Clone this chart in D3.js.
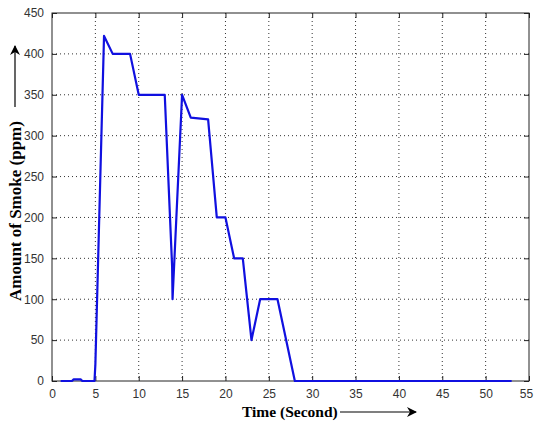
<!DOCTYPE html>
<html>
<head>
<meta charset="utf-8">
<script src="https://cdn.jsdelivr.net/npm/d3@7"></script>
<style>
  body { margin: 0; background: #fff; }
  svg { display: block; }
  .tick text { font-family: "Liberation Sans", Arial, sans-serif; font-size: 12px; fill: #333; }
  .lbl { font-family: "Liberation Serif", "Times New Roman", serif; font-weight: bold; fill: #000; }
</style>
</head>
<body>
<svg class="chart"></svg>
<script>
const width = 534, height = 425;
const margin = { top: 13, right: 5, bottom: 44, left: 52 };
const lineColor = "#1010e0";

// time in seconds
const times = [1, 2.3, 2.5, 3.3, 3.5, 4.9, 5, 6, 7, 9, 10, 13, 13.85, 13.9, 15, 16, 18, 19, 20, 21, 22, 23, 24, 26, 28, 53];
// smoke in ppm
const smoke = [0, 0, 2, 2, 0, 0, 20, 422, 400, 400, 350, 350, 140, 100, 350, 322, 320, 200, 200, 150, 150, 50, 100, 100, 0, 0];
const xTicks = [0, 5, 10, 15, 20, 25, 30, 35, 40, 45, 50, 55];
const yTicks = [0, 50, 100, 150, 200, 250, 300, 350, 400, 450];

const data = times.map((t, i) => [t, smoke[i]]);
const w = width - margin.left - margin.right,
  h = height - margin.top - margin.bottom;

const chart = d3.select(".chart")
  .attr("width", width)
  .attr("height", height);

const x = d3.scaleLinear().domain([0, 55]).range([0, w]);
const y = d3.scaleLinear().domain([0, 450]).range([h, 0]);

const g = chart.append("g")
  .attr("transform", `translate(${margin.left},${margin.top})`);

// grid
g.append("g").selectAll("line")
  .data(xTicks.slice(1, -1))
  .enter().append("line")
  .attr("x1", d => x(d)).attr("x2", d => x(d))
  .attr("y1", 0).attr("y2", h)
  .attr("stroke", "#333").attr("stroke-width", 1)
  .attr("stroke-dasharray", "1,3");
g.append("g").selectAll("line")
  .data(yTicks.slice(1, -1))
  .enter().append("line")
  .attr("y1", d => y(d)).attr("y2", d => y(d))
  .attr("x1", 0).attr("x2", w)
  .attr("stroke", "#333").attr("stroke-width", 1)
  .attr("stroke-dasharray", "1,3");

// axes, ticks pointing inward like matlab
g.append("g")
  .attr("transform", `translate(0,${h})`)
  .call(d3.axisBottom(x).tickValues(xTicks).tickSizeInner(-5).tickSizeOuter(0).tickPadding(8))
  .call(a => a.select(".domain").remove())
  .call(a => a.selectAll(".tick text").filter(d => d === 55).attr("dx", -3));
g.append("g")
  .call(d3.axisTop(x).tickValues(xTicks).tickSizeInner(-5).tickSizeOuter(0).tickFormat(""))
  .call(a => a.select(".domain").remove());
g.append("g")
  .call(d3.axisLeft(y).tickValues(yTicks).tickSizeInner(-5).tickSizeOuter(0).tickPadding(8))
  .call(a => a.select(".domain").remove());
g.append("g")
  .attr("transform", `translate(${w},0)`)
  .call(d3.axisRight(y).tickValues(yTicks).tickSizeInner(-5).tickSizeOuter(0).tickFormat(""))
  .call(a => a.select(".domain").remove());
g.selectAll(".tick line").attr("stroke", "#222");

g.append("rect")
  .attr("width", w).attr("height", h)
  .attr("fill", "none").attr("stroke", "#222").attr("stroke-width", 1);

// data line
g.append("path")
  .datum(data)
  .attr("fill", "none")
  .attr("stroke", lineColor)
  .attr("stroke-width", 2.2)
  .attr("stroke-linejoin", "round")
  .attr("d", d3.line().x(d => x(d[0])).y(d => y(d[1])));

// arrow marker
chart.append("defs").append("marker")
  .attr("id", "arr")
  .attr("viewBox", "0 0 10 10")
  .attr("refX", 9).attr("refY", 5)
  .attr("markerWidth", 10).attr("markerHeight", 10)
  .attr("markerUnits", "userSpaceOnUse")
  .attr("orient", "auto")
  .append("path")
  .attr("d", "M0,0 L10,5 L0,10 L3,5 z")
  .attr("fill", "#000");

// x label
chart.append("text")
  .attr("class", "lbl")
  .attr("font-size", 15.5)
  .attr("x", 242).attr("y", 417)
  .text("Time (Second)");
chart.append("line")
  .attr("x1", 340).attr("x2", 416)
  .attr("y1", 412).attr("y2", 412)
  .attr("stroke", "#000").attr("stroke-width", 1.2)
  .attr("marker-end", "url(#arr)");

// y label
chart.append("text")
  .attr("class", "lbl")
  .attr("font-size", 17)
  .attr("transform", "translate(21,301) rotate(-90)")
  .text("Amount of Smoke (ppm)");
chart.append("line")
  .attr("x1", 15).attr("x2", 15)
  .attr("y1", 107).attr("y2", 46)
  .attr("stroke", "#000").attr("stroke-width", 1.2)
  .attr("marker-end", "url(#arr)");
</script>
</body>
</html>
